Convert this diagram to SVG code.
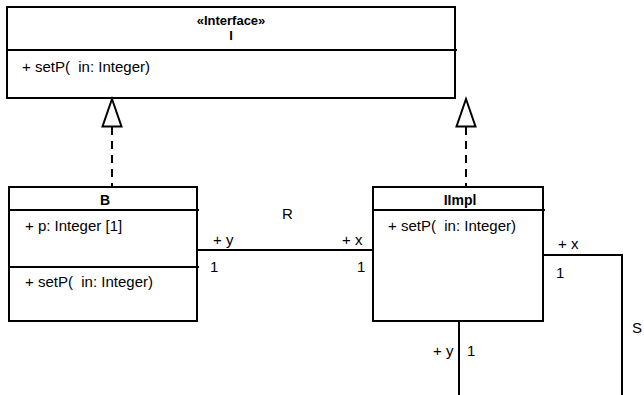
<svg xmlns="http://www.w3.org/2000/svg" width="644" height="395" viewBox="0 0 644 395">
<style>
.box{fill:#fff;stroke:#000;stroke-width:2}
.div{stroke:#000;stroke-width:2;fill:none}
.t{font-family:"Liberation Sans",Arial,sans-serif;font-size:15px;fill:#000;white-space:pre}
.b{font-weight:bold;text-anchor:middle;font-size:14px}
.s{font-size:13px}
.ln{stroke:#000;stroke-width:2;fill:none}
.dash{stroke:#000;stroke-width:2;fill:none;stroke-dasharray:8,6}
.tri{fill:#fff;stroke:#000;stroke-width:2}
</style>
<rect width="644" height="395" fill="#fff"/>
<g id="I">
<rect class="box" x="7" y="7" width="448" height="91"/>
<line class="div" x1="7" y1="50" x2="457" y2="50"/>
<text class="t b s" x="231" y="25">«Interface»</text>
<text class="t b s" x="231" y="40">I</text>
<text class="t" x="22" y="72" xml:space="preserve">+ setP(  in: Integer)</text>
</g>
<g id="B">
<rect class="box" x="9" y="187" width="188" height="134"/>
<line class="div" x1="9" y1="210" x2="199" y2="210"/>
<line class="div" x1="9" y1="267" x2="199" y2="267"/>
<text class="t b" x="105" y="205">B</text>
<text class="t" x="25" y="231">+ p: Integer [1]</text>
<text class="t" x="25" y="287" xml:space="preserve">+ setP(  in: Integer)</text>
</g>
<g id="IImpl">
<rect class="box" x="373" y="187" width="170" height="134"/>
<line class="div" x1="373" y1="210" x2="545" y2="210"/>
<text class="t b" x="460" y="205">IImpl</text>
<text class="t" x="388" y="231" xml:space="preserve">+ setP(  in: Integer)</text>
</g>
<g id="connectors">
<line class="dash" x1="112" y1="127" x2="112" y2="187"/>
<polygon class="tri" points="112,99 121.5,126.5 102.5,126.5"/>
<line class="dash" x1="466" y1="127" x2="466" y2="187"/>
<polygon class="tri" points="466,99 475.5,126.5 456.5,126.5"/>
<line class="ln" x1="197" y1="250" x2="373" y2="250"/>
<text class="t" x="282" y="219">R</text>
<text class="t" x="213" y="245">+ y</text>
<text class="t" x="210" y="272">1</text>
<text class="t" x="342" y="245">+ x</text>
<text class="t" x="357" y="272">1</text>
<polyline class="ln" points="543,255 622,255 622,395"/>
<text class="t" x="558" y="249">+ x</text>
<text class="t" x="556" y="278">1</text>
<text class="t" x="632" y="333">S</text>
<line class="ln" x1="459" y1="321" x2="459" y2="395"/>
<text class="t" x="433" y="356">+ y</text>
<text class="t" x="467" y="356">1</text>
</g>
</svg>
